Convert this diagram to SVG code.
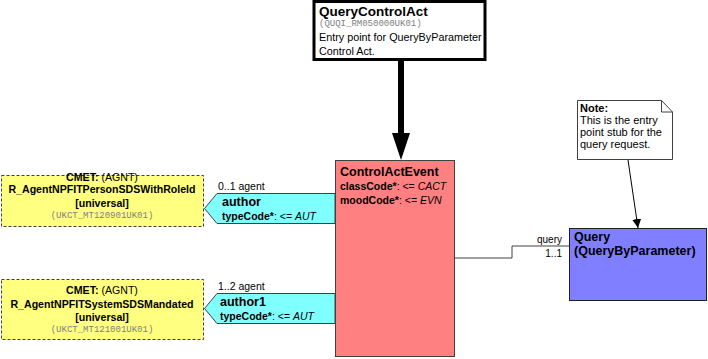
<svg xmlns="http://www.w3.org/2000/svg" width="708" height="359" viewBox="0 0 708 359">
  <style>
    text { font-family: "Liberation Sans", Arial, sans-serif; fill: #000; }
    .b { font-weight: bold; }
    .title { font-weight: bold; font-size: 12.5px; }
    .attr { font-size: 10.5px; }
    .small { font-size: 10.6px; }
    .code { font-family: "Liberation Mono", "Courier New", monospace; font-size: 9px; fill: #808080; }
    .cmet { fill: #FFFF80; stroke: #404040; stroke-width: 1; stroke-dasharray: 3 2; }
    .assoc { fill: #80FFFF; stroke: #404040; stroke-width: 1; }
    .conn { fill: none; stroke: #404040; stroke-width: 1; }
  </style>
  <defs>
    <marker id="arrowSmall" viewBox="0 0 10 10" refX="10" refY="5" markerWidth="9" markerHeight="10" markerUnits="userSpaceOnUse" orient="auto">
      <path d="M0,0 L10,5 L0,10 z" fill="#000"/>
    </marker>
  </defs>

  <!-- connectors -->
  <g id="connectors">
    <line x1="401" y1="60" x2="401" y2="134" stroke="#000" stroke-width="6"/>
    <polygon points="392,133 410,133 401,160" fill="#000"/>
    <polyline class="conn" points="455,258 512,258 512,246 569,246"/>
    <text x="562" y="243" font-size="10" text-anchor="end">query</text>
    <text x="562" y="257" font-size="10" text-anchor="end">1..1</text>
    <line x1="628" y1="160" x2="638" y2="228" stroke="#000" stroke-width="1" marker-end="url(#arrowSmall)"/>
  </g>

  <!-- entry point -->
  <g id="QueryControlAct">
    <rect x="314" y="1.5" width="171" height="58" fill="#fff" stroke="#000" stroke-width="3"/>
    <text x="319" y="16" class="b" font-size="13.5">QueryControlAct</text>
    <text x="319" y="26" class="code">(QUQI_RM050000UK01)</text>
    <text x="319" y="41" font-size="10.8">Entry point for QueryByParameter</text>
    <text x="319" y="55" font-size="10.8">Control Act.</text>
  </g>

  <!-- focal act -->
  <g id="ControlActEvent">
    <rect x="335.5" y="160.5" width="119" height="196" fill="#FF8080" stroke="#404040" stroke-width="1"/>
    <text x="340" y="176" class="title">ControlActEvent</text>
    <text x="340" y="190" class="attr"><tspan class="b">classCode*</tspan>: &lt;= <tspan font-style="italic">CACT</tspan></text>
    <text x="340" y="204" class="attr"><tspan class="b">moodCode*</tspan>: &lt;= <tspan font-style="italic">EVN</tspan></text>
  </g>

  <!-- first agent participation -->
  <g id="author">
    <polygon class="assoc" points="335,193.5 217,193.5 204.5,208.5 217,223.5 335,223.5"/>
    <text x="218" y="190" font-size="10.5">0..1 agent</text>
    <text x="222" y="206" class="title" font-size="13">author</text>
    <text x="222" y="220" class="attr"><tspan class="b">typeCode*</tspan>: &lt;= <tspan font-style="italic">AUT</tspan></text>
  </g>
  <g id="CMET_PersonSDS">
    <rect class="cmet" x="1.5" y="175.5" width="202" height="51"/>
    <text x="102" y="181" class="small" text-anchor="middle"><tspan class="b">CMET:</tspan> (AGNT)</text>
    <text x="102" y="193" class="small b" text-anchor="middle">R_AgentNPFITPersonSDSWithRoleId</text>
    <text x="102" y="207" class="small b" text-anchor="middle">[universal]</text>
    <text x="102" y="218" class="code" text-anchor="middle">(UKCT_MT120901UK01)</text>
  </g>

  <!-- second agent participation -->
  <g id="author1">
    <polygon class="assoc" points="335,293.5 217,293.5 204.5,308.5 217,323.5 335,323.5"/>
    <text x="218" y="290" font-size="10.5">1..2 agent</text>
    <text x="220" y="306" class="title" font-size="13">author1</text>
    <text x="220" y="320" class="attr"><tspan class="b">typeCode*</tspan>: &lt;= <tspan font-style="italic">AUT</tspan></text>
  </g>
  <g id="CMET_SystemSDS">
    <rect class="cmet" x="1.5" y="279.5" width="202" height="60"/>
    <text x="102" y="294" class="small" text-anchor="middle"><tspan class="b">CMET:</tspan> (AGNT)</text>
    <text x="102" y="308" class="small b" text-anchor="middle">R_AgentNPFITSystemSDSMandated</text>
    <text x="102" y="321" class="small b" text-anchor="middle">[universal]</text>
    <text x="102" y="332" class="code" text-anchor="middle">(UKCT_MT121001UK01)</text>
  </g>

  <!-- query stub -->
  <g id="Query">
    <rect x="569.5" y="228.5" width="137" height="72" fill="#7F7FFF" stroke="#202020" stroke-width="1"/>
    <text x="574" y="241" class="title" font-size="13">Query</text>
    <text x="574" y="255" class="title" font-size="13">(QueryByParameter)</text>
  </g>

  <!-- annotation -->
  <g id="Note">
    <path d="M577.5,100.5 L661.5,100.5 L672.5,112 L672.5,159.5 L577.5,159.5 Z" fill="#fff" stroke="#404040" stroke-width="1"/>
    <path d="M661.5,100.5 L661.5,112 L672.5,112" fill="none" stroke="#404040" stroke-width="1"/>
    <text x="580" y="112" class="b" font-size="11">Note:</text>
    <text x="580" y="124" font-size="11">This is the entry</text>
    <text x="580" y="136" font-size="11">point stub for the</text>
    <text x="580" y="148" font-size="11">query request.</text>
  </g>
</svg>
